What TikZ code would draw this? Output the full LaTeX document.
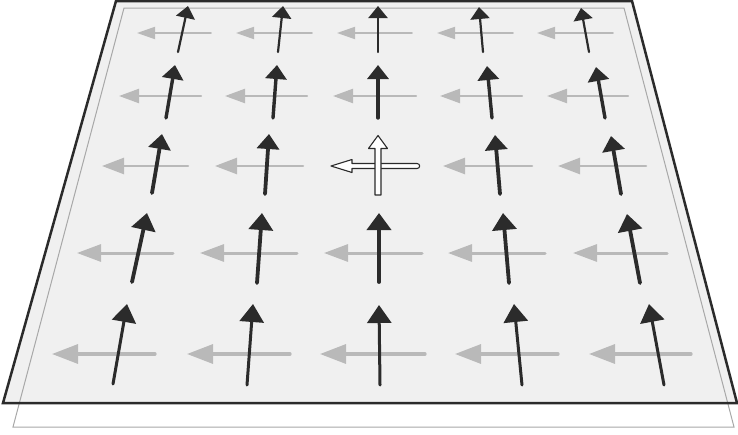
\documentclass[tikz,border=0pt]{standalone}
\usetikzlibrary{arrows.meta}
\definecolor{arrblk}{HTML}{2B2B2B}
\definecolor{arrgray}{HTML}{B9B9B9}
\definecolor{planefill}{HTML}{F0F0F0}
\definecolor{planeline}{HTML}{A8A8A8}
\tikzset{
  b1/.style={draw=arrblk,line width=2.2pt,line cap=round,-{Triangle[length=12pt 0 0,width=19pt 0 0]}},
  b2/.style={draw=arrblk,line width=3.4pt,line cap=round,-{Triangle[length=14pt 0 0,width=21pt 0 0]}},
  b3/.style={draw=arrblk,line width=3.8pt,line cap=round,-{Triangle[length=15pt 0 0,width=22pt 0 0]}},
  b4/.style={draw=arrblk,line width=3.8pt,line cap=round,-{Triangle[length=17pt 0 0,width=24pt 0 0]}},
  b5/.style={draw=arrblk,line width=3pt,line cap=round,-{Triangle[length=18pt 0 0,width=24pt 0 0]}},
  g1/.style={draw=arrgray,line width=1.8pt,line cap=round,-{Triangle[length=18pt 0 0,width=12pt 0 0]}},
  g2/.style={draw=arrgray,line width=2.3pt,line cap=round,-{Triangle[length=20pt 0 0,width=14pt 0 0]}},
  g3/.style={draw=arrgray,line width=2.5pt,line cap=round,-{Triangle[length=22pt 0 0,width=16pt 0 0]}},
  g4/.style={draw=arrgray,line width=3pt,line cap=round,-{Triangle[length=24pt 0 0,width=17pt 0 0]}},
  g5/.style={draw=arrgray,line width=3.2pt,line cap=round,-{Triangle[length=26pt 0 0,width=19pt 0 0]}},
  whitearrow/.style={draw=arrblk,fill=white,line width=1.1pt,line join=round},
}
\begin{document}
\begin{tikzpicture}[x=1pt,y=-1pt]
\useasboundingbox (0,0) rectangle (738,434);
% plane
\fill[planefill] (116,1) -- (632,1) -- (737,403) -- (3,403) -- cycle;
\draw[planeline,line width=1pt] (124,8) -- (624,8) -- (734,427) -- (13,427) -- cycle;
\draw[arrblk,line width=2.5pt,line join=miter] (116,1) -- (632,1) -- (737,403) -- (3,403) -- cycle;

% row 1
\draw[g1] (211,33) -- (137,33);
\draw[g1] (312,33) -- (236,33);
\draw[g1] (412,33) -- (337,33);
\draw[g1] (513,33) -- (437,33);
\draw[g1] (613,33) -- (537,33);
\draw[b1] (178,52) -- (188,6);
\draw[b1] (278,52) -- (283,6);
\draw[b1] (378,52) -- (378,6);
\draw[b1] (483,52) -- (479,7);
\draw[b1] (589,52) -- (581,8);

% row 2
\draw[g2] (201,96) -- (119,96);
\draw[g2] (307,96) -- (225,96);
\draw[g2] (416,96) -- (333,96);
\draw[g2] (522,96) -- (440,96);
\draw[g2] (628,96) -- (547,96);
\draw[b2] (166,118) -- (175,65);
\draw[b2] (273,118) -- (277,65);
\draw[b2] (378,118) -- (378,65);
\draw[b2] (492,118) -- (487,66);
\draw[b2] (605,118) -- (596,67);

% row 3
\draw[g3] (188,166) -- (102,166);
\draw[g3] (303,166) -- (215,166);
\draw[g3] (532,166) -- (443,166);
\draw[g3] (646,166) -- (558,166);
\draw[b3] (152,193) -- (162,134);
\draw[b3] (265,194) -- (269,134);
\draw[b3] (500,194) -- (495,135);
\draw[b3] (621,194) -- (611,136);
% centre (white) arrows
\draw[whitearrow] (417,163.5) -- (352,163.5) -- (352,159.5) -- (331,166)
  -- (352,172.5) -- (352,168.5) -- (417,168.5)
  .. controls (420.5,168.5) and (420.5,163.5) .. (417,163.5) -- cycle;
\draw[whitearrow] (375,195) -- (375,148.5) -- (368.5,148.5) -- (378,135.5)
  -- (387.5,148.5) -- (381,148.5) -- (381,195) -- cycle;

% row 4
\draw[g4] (173,253) -- (77,253);
\draw[g4] (297,253) -- (200,253);
\draw[g4] (422,253) -- (324,253);
\draw[g4] (545,253) -- (448,253);
\draw[g4] (667,253) -- (573,253);
\draw[b4] (132,282) -- (147,213);
\draw[b4] (257,283) -- (262,213);
\draw[b4] (379,282) -- (379,213);
\draw[b4] (509,283) -- (503,213);
\draw[b4] (640,283) -- (627,214);

% row 5
\draw[g5] (155,354) -- (52,354);
\draw[g5] (290,354) -- (187,354);
\draw[g5] (425,354) -- (320,354);
\draw[g5] (558,354) -- (455,354);
\draw[g5] (691,354) -- (589,354);
\draw[b5] (113,384) -- (127,304);
\draw[b5] (247,385) -- (253,304);
\draw[b5] (380,385) -- (379,305);
\draw[b5] (522,385) -- (514,304);
\draw[b5] (664,385) -- (649,304);
\end{tikzpicture}
\end{document}
